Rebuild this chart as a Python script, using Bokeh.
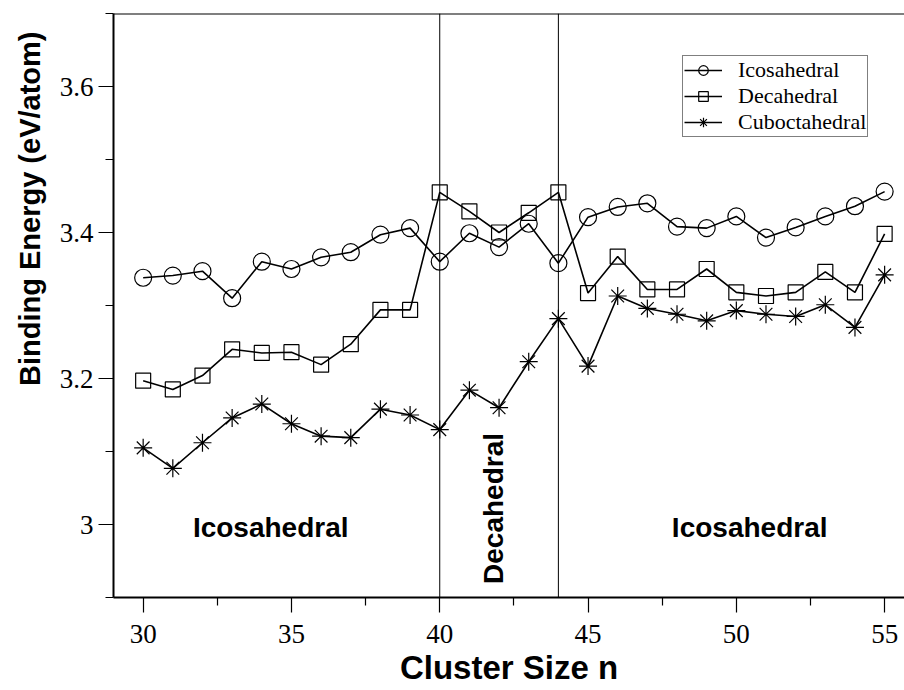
from bokeh.embed import file_html
from bokeh.models import (ColumnDataSource, CustomJSTickFormatter, FixedTicker,
                          Label, Legend, LegendItem, Span, Title)
from bokeh.plotting import figure
from bokeh.resources import INLINE
from math import pi

# Cluster sizes n
sizes = list(range(30, 56))

# Binding energy per atom (eV/atom) for each structural motif
icosahedral = [3.338, 3.341, 3.347, 3.310, 3.360, 3.350, 3.366, 3.373, 3.397, 3.406,
               3.360, 3.399, 3.380, 3.412, 3.358, 3.421, 3.435, 3.440, 3.408, 3.406,
               3.422, 3.393, 3.407, 3.422, 3.436, 3.456]
decahedral = [3.197, 3.185, 3.204, 3.240, 3.235, 3.236, 3.219, 3.247, 3.294, 3.294,
              3.455, 3.429, 3.400, 3.427, 3.455, 3.317, 3.367, 3.322, 3.322, 3.350,
              3.318, 3.313, 3.318, 3.346, 3.318, 3.398]
cuboctahedral = [3.105, 3.077, 3.112, 3.146, 3.165, 3.138, 3.121, 3.119, 3.158, 3.150,
                 3.130, 3.184, 3.160, 3.223, 3.282, 3.217, 3.313, 3.296, 3.288, 3.279,
                 3.293, 3.288, 3.285, 3.301, 3.270, 3.342]

# Sizes where the most stable motif changes
phase_bounds = [40, 44]

x_ticks = [30, 35, 40, 45, 50, 55]
x_minor = [32.5, 37.5, 42.5, 47.5, 52.5]
y_ticks = [3.0, 3.2, 3.4, 3.6]
y_minor = [2.9, 3.1, 3.3, 3.5, 3.7]

SERIF = "Liberation Serif"
SANS = "Liberation Sans"

src = ColumnDataSource(dict(n=sizes, ico=icosahedral, dec=decahedral, cub=cuboctahedral))

p = figure(width=904, height=690, output_backend="svg", toolbar_location=None,
           x_range=(29, 55.67), y_range=(2.9, 3.7),
           min_border_left=113, min_border_right=0, min_border_top=13,
           min_border_bottom=93)
p.grid.visible = False
p.outline_line_color = None
p.background_fill_color = "white"
p.border_fill_color = "white"

# Axes styling
for ax in (p.xaxis[0], p.yaxis[0]):
    ax.axis_line_width = 2
    ax.axis_line_color = "black"
    ax.major_tick_line_color = "black"
    ax.minor_tick_line_color = "black"
    ax.major_tick_line_width = 1.2
    ax.minor_tick_line_width = 1.2
    ax.major_tick_in = 0
    ax.minor_tick_in = 0
    ax.major_tick_out = 15
    ax.minor_tick_out = 8
    ax.major_label_text_font = SERIF
    ax.major_label_text_font_size = "27px"
    ax.major_label_text_color = "black"

p.xaxis.ticker = FixedTicker(ticks=x_ticks, minor_ticks=x_minor)
p.yaxis.ticker = FixedTicker(ticks=y_ticks, minor_ticks=y_minor)
p.yaxis.formatter = CustomJSTickFormatter(code="return String(Math.round(tick * 10) / 10);")
p.xaxis.major_label_standoff = 12
p.yaxis.major_label_standoff = 5

p.xaxis.axis_label = "Cluster Size n"
p.xaxis.axis_label_text_font = SANS
p.xaxis.axis_label_text_font_style = "bold"
p.xaxis.axis_label_text_font_size = "33px"
p.xaxis.axis_label_text_color = "black"
p.xaxis.axis_label_standoff = 3

# y-axis title, anchored toward the top of the frame
p.add_layout(Title(text="Binding Energy (eV/atom)", align="right", offset=18,
                   standoff=21, text_font=SANS, text_font_style="bold",
                   text_font_size="29px", text_color="black"), "left")

# Top frame line
p.add_layout(Span(location=3.7, dimension="width", line_color="black", line_width=2))

# Phase boundaries
for b in phase_bounds:
    p.add_layout(Span(location=b, dimension="height", line_color="black", line_width=1))

# Series
lw = 1.6
l1 = p.line("n", "ico", source=src, line_color="black", line_width=lw)
m1 = p.scatter("n", "ico", source=src, marker="circle", size=17, fill_alpha=0,
               line_color="black", line_width=1.2)
l2 = p.line("n", "dec", source=src, line_color="black", line_width=lw)
m2 = p.scatter("n", "dec", source=src, marker="square", size=15, fill_alpha=0,
               line_color="black", line_width=1.2)
l3 = p.line("n", "cub", source=src, line_color="black", line_width=lw)
m3 = p.scatter("n", "cub", source=src, marker="asterisk", size=18,
               line_color="black", line_width=1.2)

# Region annotations
region_style = dict(text_font=SANS, text_font_style="bold",
                    text_font_size="28px", text_color="black",
                    text_align="center", text_baseline="middle")
p.add_layout(Label(x=34.3, y=2.996, text="Icosahedral", **region_style))
p.add_layout(Label(x=50.45, y=2.996, text="Icosahedral", **region_style))
p.add_layout(Label(x=41.8, y=3.022, text="Decahedral", angle=pi / 2, **region_style))

legend = Legend(items=[LegendItem(label="Icosahedral", renderers=[l1, m1]),
                       LegendItem(label="Decahedral", renderers=[l2, m2]),
                       LegendItem(label="Cuboctahedral", renderers=[l3, m3])],
                location=(569, 460))
legend.label_text_font = SERIF
legend.label_text_font_size = "22px"
legend.label_text_line_height = 1.0
legend.label_text_color = "black"
legend.label_height = 24
legend.glyph_height = 24
legend.glyph_width = 38
legend.label_standoff = 16
legend.spacing = 0
legend.padding = 1
legend.margin = 0
legend.border_line_color = "black"
legend.border_line_width = 1.2
legend.background_fill_color = "white"
legend.background_fill_alpha = 1
p.add_layout(legend, "center")

open("out.html", "w").write(file_html(p, INLINE))
